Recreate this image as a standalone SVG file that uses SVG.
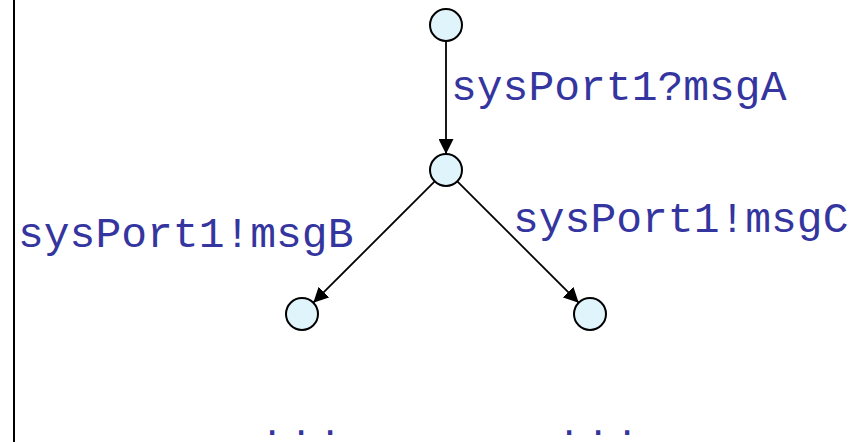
<svg xmlns="http://www.w3.org/2000/svg" width="864" height="442" viewBox="0 0 864 442">
<defs>
<style>
.node{fill:#e0f4fc;stroke:#000;stroke-width:2}
.edge{stroke:#000;stroke-width:1.8;fill:none;marker-end:url(#arr)}
.lbl{font-family:"Liberation Mono","Courier New",monospace;font-size:43px;fill:#3535a0}
.dots{font-family:"Liberation Sans",Arial,sans-serif;font-size:44px;fill:#3535a0;letter-spacing:16.8px}
</style>
<marker id="arr" viewBox="0 0 10 10" refX="10" refY="5" markerUnits="userSpaceOnUse" markerWidth="15" markerHeight="15" orient="auto">
<path d="M0,0 L10,5 L0,10 z" fill="#000"/>
</marker>
</defs>
<rect width="864" height="442" fill="#fff"/>
<line x1="14" y1="0" x2="14" y2="442" stroke="#000" stroke-width="2"/>
<g id="connectors">
<line class="edge" x1="446" y1="41" x2="446" y2="154"/>
<line class="edge" x1="434.7" y1="181.3" x2="313.3" y2="302.7"/>
<line class="edge" x1="457.3" y1="181.3" x2="578.7" y2="302.7"/>
<text class="lbl" x="451" y="100">sysPort1?msgA</text>
<text class="lbl" x="18" y="247">sysPort1!msgB</text>
<text class="lbl" x="513" y="232">sysPort1!msgC</text>
</g>
<g id="n0"><circle class="node" cx="446" cy="25" r="16"/></g>
<g id="n1"><circle class="node" cx="446" cy="170" r="16"/></g>
<g id="n2"><circle class="node" cx="302" cy="314" r="16"/></g>
<g id="n3"><circle class="node" cx="590" cy="314" r="16"/></g>
<g id="more">
<text class="dots" x="266" y="435">...</text>
<text class="dots" x="563" y="435">...</text>
</g>
</svg>
